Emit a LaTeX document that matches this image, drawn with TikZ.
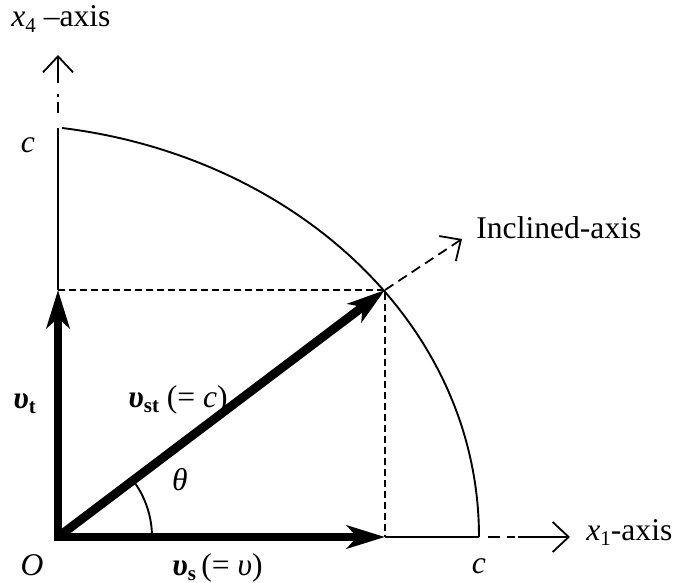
\documentclass[tikz,border=0pt]{standalone}
\usepackage{fontspec}
\setmainfont{Liberation Serif}
\usetikzlibrary{arrows.meta}
\newcommand\lbsub[1]{\raisebox{-0.35ex}{\fontsize{10.5}{12}\selectfont #1}}
\newcommand\bvec{\textbf{\textit{υ}}}
\begin{document}
\begin{tikzpicture}[x=0.5pt,y=-0.5pt,
  font=\fontsize{15.8}{19}\selectfont,
  thinline/.style={line width=0.95pt},
  vec/.style={line width=4.4pt,-{Stealth[length=19pt,width=11.5pt,inset=5pt]}},
  guide/.style={line width=0.75pt,dash pattern=on 3.5pt off 2pt},
  axisarrow/.style={line width=0.9pt,-{Straight Barb[length=8pt,width=15pt]}},
  lbl/.style={inner sep=0pt}]
\useasboundingbox (0,0) rectangle (675,583);
% points
\coordinate (O) at (58,537);
\coordinate (S) at (385,537);
\coordinate (T) at (58,290);
\coordinate (P) at (385,290);
\coordinate (C1) at (479,537);
\coordinate (C4) at (58,128);
\coordinate (A4) at (62,128);
\coordinate (IA) at (462,239);
\coordinate (X1) at (570,537);
\coordinate (X4) at (58,55);
% guides
\draw[guide] (T) -- (P) -- (S);
\draw[thinline] (C4) -- (T);
\draw[thinline] (S) -- (C1);
\draw[thinline] (A4) .. controls (292,156) and (479,322) .. (C1);
% angle
\draw[thinline] ([xshift=47pt]O) arc[start angle=0,end angle=37,radius=47pt];
% axes extensions
\draw[thinline] (488,537) -- (500,537);
\draw[thinline] (507,537) -- (515,537);
\draw[axisarrow] (518,537) -- (X1);
\draw[thinline] (58,113) -- (58,102);
\draw[thinline] (58,97) -- (58,94);
\draw[axisarrow] (58,83) -- (X4);
\draw[axisarrow,dash pattern=on 5pt off 3pt] (P) -- (IA);
% vectors
\draw[vec,line cap=rect] (O) -- (S);
\draw[vec,line cap=rect] (O) -- (T);
\draw[vec] (O) -- (P);
% labels
\node[lbl,anchor=base west] (l4) at (11,27) {\textit{x}\lbsub{4} –axis};
\node[lbl,anchor=base west] (li) at (476,238) {Inclined-axis};
\node[lbl,anchor=base west] (l1) at (586,540) {\textit{x}\lbsub{1}-axis};
\node[lbl,anchor=base] (lc4) at (28,153) {\textit{c}};
\node[lbl,anchor=base] (lc1) at (479,573) {\textit{c}};
\node[lbl,anchor=base] (lO) at (32,575) {\textit{O}};
\node[lbl,anchor=base west] (ls) at (172,575) {\bvec\lbsub{\textbf{s}}\,(= \textit{υ})};
\node[lbl,anchor=base west] (lt) at (13,408) {\bvec\lbsub{\textbf{t}}};
\node[lbl,anchor=base west] (lst) at (128,407) {\bvec\lbsub{\textbf{st}} (= \textit{c})};
\node[lbl,anchor=base] (lth) at (180,490) {\textit{θ}};
\end{tikzpicture}
\end{document}
